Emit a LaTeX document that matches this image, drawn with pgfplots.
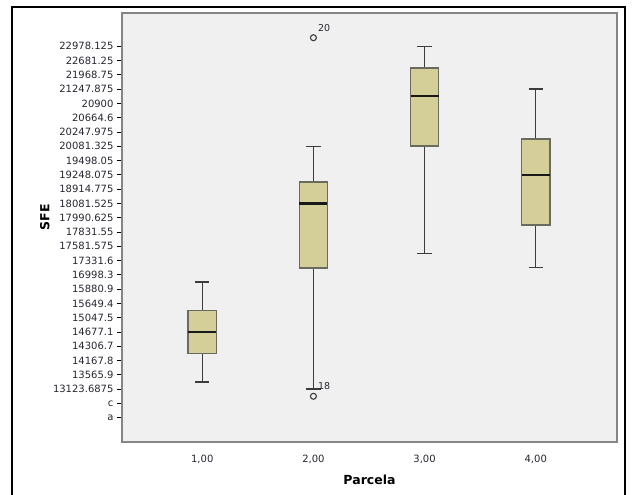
\documentclass[border=0pt]{standalone}
\usepackage{pgfplots}
\pgfplotsset{compat=1.18}
\usepgfplotslibrary{statistics}
\usepackage{fontspec}
\setmainfont{DejaVu Sans}
\definecolor{bgcol}{HTML}{F0F0F0}
\definecolor{boxfill}{HTML}{D4CF98}
\definecolor{boxedge}{HTML}{6A6A5E}
\definecolor{whisk}{HTML}{3C3C3C}
\definecolor{frame}{HTML}{858585}
\definecolor{txt}{HTML}{262630}
\begin{document}
\begin{tikzpicture}
\useasboundingbox (0pt,0pt) rectangle (633pt,495pt);
\draw[line width=2.6pt] (12pt,-5pt) -- (12pt,488pt) -- (625pt,488pt) -- (625pt,-5pt);
\begin{axis}[
  at={(122pt,53pt)}, anchor=south west,
  scale only axis, width=495pt, height=429pt,
  xmin=0.278, xmax=4.731, ymin=-1.7, ymax=28.33,
  axis background/.style={fill=bgcol},
  axis line style={draw=frame, line width=1.4pt},
  xtick={1,2,3,4},
  xticklabels={{1,00},{2,00},{3,00},{4,00}},
  x tick style={draw=none},
  ytick={0,...,26},
  yticklabels={a,c,13123.6875,13565.9,14167.8,14306.7,14677.1,15047.5,15649.4,15880.9,16998.3,17331.6,17581.575,17831.55,17990.625,18081.525,18914.775,19248.075,19498.05,20081.325,20247.975,20664.6,20900,21247.875,21968.75,22681.25,22978.125},
  y tick style={draw=black, line width=0.9pt},
  tick align=outside, major tick length=5pt,
  ytick pos=left, xtick pos=bottom,
  tick label style={font=\fontsize{10}{11}\selectfont, text=txt},
  x tick label style={yshift=-5pt},
  xlabel={\bfseries Parcela}, ylabel={\bfseries SFE},
  label style={font=\fontsize{12.5}{14}\selectfont, text=black},
  x label style={at={(axis description cs:0.5,-0.088)}, anchor=center},
  y label style={at={(axis description cs:-0.156,0.524)}, anchor=center},
  boxplot/draw direction=y,
  boxplot/box extend=0.253,
  boxplot/whisker extend=0.13,
  boxplot/every median/.style={draw=black!90, line width=2.2pt},
  boxplot/every whisker/.style={draw=whisk, line width=1.5pt},
  boxplot/every box/.style={draw=boxedge, fill=boxfill, line width=1.6pt},
  every axis plot/.append style={line width=1.5pt},
  clip=false,
]
\addplot[boxplot prepared={draw position=1, lower whisker=2.5, lower quartile=4.5, median=6, upper quartile=7.5, upper whisker=9.5}, draw=boxedge, fill=boxfill, line width=1.5pt] coordinates {};
\addplot[boxplot prepared={draw position=2, lower whisker=2, lower quartile=10.5, median=15, upper quartile=16.5, upper whisker=19}, draw=boxedge, fill=boxfill, line width=1.5pt, mark=o, mark size=3pt, mark options={draw=whisk, fill=none, line width=1.1pt}] table[row sep=\\, y index=0] {y\\ 1.5\\ 26.6\\};
\addplot[boxplot prepared={draw position=3, lower whisker=11.5, lower quartile=19, median=22.5, upper quartile=24.5, upper whisker=26}, draw=boxedge, fill=boxfill, line width=1.5pt] coordinates {};
\addplot[boxplot prepared={draw position=4, lower whisker=10.5, lower quartile=13.5, median=17, upper quartile=19.5, upper whisker=23}, draw=boxedge, fill=boxfill, line width=1.5pt] coordinates {};
\node[anchor=west, font=\fontsize{9.5}{10}\selectfont, text=txt, inner sep=0pt] at (axis cs:2.04,27.3) {20};
\node[anchor=west, font=\fontsize{9.5}{10}\selectfont, text=txt, inner sep=0pt] at (axis cs:2.04,2.25) {18};
\end{axis}
\end{tikzpicture}
\end{document}
